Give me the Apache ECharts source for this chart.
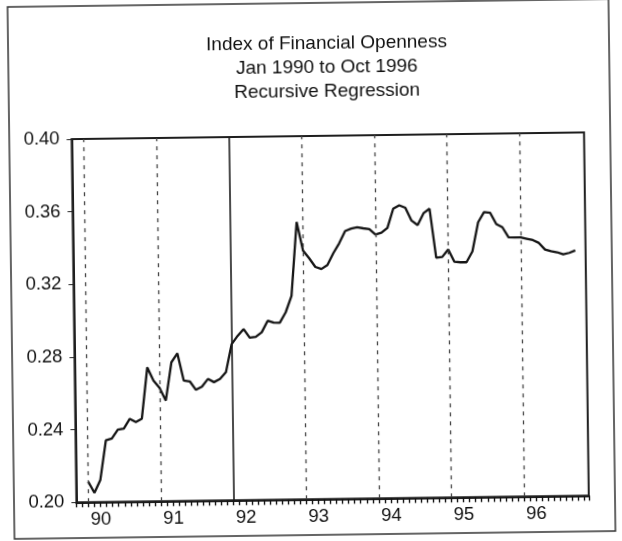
<!DOCTYPE html>
<html>
<head>
<meta charset="utf-8">
<script src="https://cdn.jsdelivr.net/npm/echarts@6/dist/echarts.min.js"></script>
<style>
  html, body { margin: 0; padding: 0; background: #fff; overflow: hidden; }
  /* the scanned original sits slightly tilted on the page */
  #chart { width: 622px; height: 541px; transform: rotate(-0.75deg); }
</style>
</head>
<body>
<div id="chart"></div>
<script>
// recursive estimate, monthly, Jan 1990 .. Oct 1996
var openness = [
  0.2113, 0.2051, 0.2121, 0.2339, 0.2349, 0.2397, 0.2403, 0.2456, 0.2438, 0.2456, 0.2738, 0.2665,
  0.2624, 0.2554, 0.2764, 0.2813, 0.2663, 0.2658, 0.2611, 0.2628, 0.2670, 0.2652, 0.2669, 0.2706,
  0.2860, 0.2905, 0.2942, 0.2894, 0.2898, 0.2923, 0.2986, 0.2975, 0.2974, 0.3031, 0.3121, 0.3528,
  0.3370, 0.3327, 0.3279, 0.3267, 0.3288, 0.3353, 0.3408, 0.3474, 0.3487, 0.3494, 0.3488, 0.3483,
  0.3453, 0.3462, 0.3489, 0.3594, 0.3612, 0.3598, 0.3527, 0.3502, 0.3567, 0.3591, 0.3321, 0.3325,
  0.3366, 0.3297, 0.3294, 0.3294, 0.3353, 0.3513, 0.3569, 0.3565, 0.3502, 0.3484, 0.3428, 0.3427,
  0.3427, 0.3419, 0.3411, 0.3395, 0.3358, 0.3348, 0.3342, 0.3330, 0.3338, 0.3351
]
var yearStarts = [0, 12, 24, 36, 48, 60, 72]
var yearLabels = ['90', '91', '92', '93', '94', '95', '96']
var breakMonth = 24   // Jan 1992, start of recursive sample
var yTicks = [0.20, 0.24, 0.28, 0.32, 0.36, 0.40]

var chart = echarts.init(document.getElementById('chart'))
var font = 'Liberation Sans, Arial, sans-serif'

chart.setOption({
  animation: false,
  backgroundColor: '#fff',
  title: {
    text: 'Index of Financial Openness\nJan 1990 to Oct 1996\nRecursive Regression',
    left: 329.5,
    top: 31.5,
    padding: 0,
    textAlign: 'center',
    textStyle: { fontFamily: font, fontSize: 19, fontWeight: 'normal', color: '#111', lineHeight: 24.3 }
  },
  graphic: [{
    type: 'rect',
    shape: { x: 11, y: 3, width: 601, height: 532 },
    style: { fill: 'none', stroke: '#333', lineWidth: 1.5 },
    silent: true
  }],
  grid: {
    left: 73.4,
    right: 36.2,
    top: 136,
    bottom: 41.7,
    show: true,
    borderColor: '#1e1e1e',
    borderWidth: 2
  },
  xAxis: [{
    type: 'value',
    min: -2,
    max: 82.7,
    interval: 1,
    axisLine: { show: true, onZero: false, lineStyle: { color: '#1e1e1e', width: 2 } },
    axisTick: { show: true, length: 5, lineStyle: { color: '#151515', width: 1.4 } },
    axisLabel: { show: false },
    splitLine: { show: false }
  }, {
    type: 'value',
    min: -2,
    max: 82.7,
    position: 'bottom',
    axisLine: { show: false, onZero: false },
    axisTick: { show: false },
    axisLabel: {
      customValues: yearStarts,
      formatter: function (v) { return yearLabels[yearStarts.indexOf(v)] },
      align: 'left',
      margin: 8,
      padding: [0, 0, 0, 2],
      fontFamily: font,
      fontSize: 18.5,
      color: '#111'
    },
    splitLine: { show: false }
  }],
  yAxis: {
    type: 'value',
    min: yTicks[0],
    max: yTicks[yTicks.length - 1],
    interval: 0.04,
    axisLine: { show: true, onZero: false, lineStyle: { color: '#1e1e1e', width: 2 } },
    axisTick: { show: true, length: 5, lineStyle: { color: '#222' } },
    axisLabel: {
      formatter: function (v) { return v.toFixed(2) },
      margin: 12,
      padding: [0, 0, 9, 0],
      fontFamily: font,
      fontSize: 18.5,
      color: '#111'
    },
    splitLine: { show: false }
  },
  series: [{
    type: 'line',
    data: openness.map(function (v, i) { return [i, v] }),
    symbol: 'none',
    lineStyle: { color: '#151515', width: 2.3 },
    markLine: {
      silent: true,
      symbol: 'none',
      label: { show: false },
      data: yearStarts.map(function (m) {
        return m === breakMonth
          ? { xAxis: m, lineStyle: { type: 'solid', color: '#1e1e1e', width: 1.6 } }
          : { xAxis: m, lineStyle: { type: [4, 5], color: '#444', width: 1.3 } }
      })
    }
  }]
})
</script>
</body>
</html>
